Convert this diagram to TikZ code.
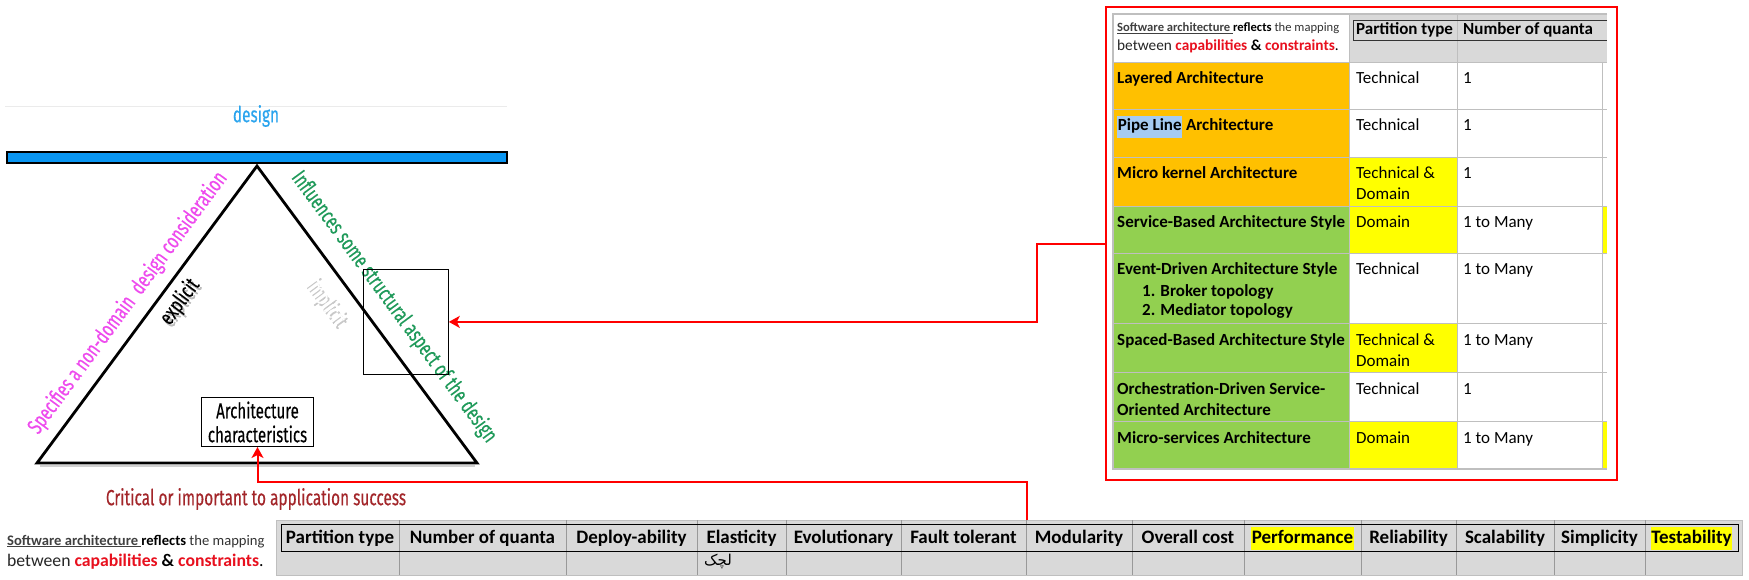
\documentclass[tikz,border=0pt]{standalone}
\usepackage{fontspec}
\setmainfont{Carlito}
\newfontfamily\condf[FakeStretch=0.7,FakeBold=0.3]{Fira Sans}
\newfontfamily\arabicfont[Script=Arabic]{DejaVu Sans}
\TeXXeTstate=1
\usetikzlibrary{arrows.meta}
\definecolor{orng}{HTML}{FFC000}
\definecolor{grn}{HTML}{92D050}
\definecolor{yel}{HTML}{FFFF00}
\definecolor{lgray}{HTML}{D9D9D9}
\definecolor{gline}{HTML}{BFBFBF}
\definecolor{dblue}{HTML}{2AA4EE}
\definecolor{barblue}{HTML}{0A96F2}
\definecolor{magt}{HTML}{EE4AEE}
\definecolor{dgreen}{HTML}{1F9A5A}
\definecolor{dred}{HTML}{A3262A}
\definecolor{hlblue}{HTML}{A5CBF2}
\definecolor{capred}{HTML}{E8101E}
\newcommand\fsz[2]{\fontsize{#1pt}{#2pt}\selectfont}
\newcommand\hl[2]{{\setlength{\fboxsep}{0.6pt}\colorbox{#1}{\strut #2}}}
\newcommand\swA{{\color{black!75}\bfseries\underline{Software architecture\ }}{\bfseries reflects} {\color{black!80}the mapping}}
\newcommand\swB{{\color{black!85}between} {\color{capred}\bfseries capabilities} {\bfseries\&} {\color{capred}\bfseries constraints}.}
\tikzset{
  tlab/.style={inner sep=0pt, font=\condf\fsz{22}{26}},
  shd/.style={tlab, text=black!50, opacity=0.5},
  ttxt/.style={anchor=base west, inner sep=0pt, font=\fsz{17}{20}},
  ttxtb/.style={anchor=base west, inner sep=0pt, font=\fsz{17}{20}\bfseries},
  htxt/.style={anchor=base, inner sep=0pt, font=\fsz{19}{22}\bfseries},
  conn/.style={draw=red, line width=2pt, -{Stealth[length=11pt,width=12pt,inset=3pt]}},
}
\begin{document}
\begin{tikzpicture}[x=1pt,y=-1pt]
\useasboundingbox[fill=white] (0,0) rectangle (1749,580);
% ---------- left: design triangle ----------
\draw[black!8, line width=0.8pt] (5,106) -- (507,106);
\node[tlab, text=dblue] (design) at (256,116) {design};
\draw[fill=barblue, line width=1.5pt] (7,152) rectangle (507,163);
\draw[black!18, line width=2pt] (40,466) -- (475,466);
\draw[line width=2.8pt, line join=miter] (257,166) -- (477,463) -- (37,463) -- cycle;
\node[tlab, text=magt, rotate=53.6] (spec) at (128,303) {Specifies a non-domain\ \ design consideration};
\node[tlab, text=dgreen, rotate=-53.6] (infl) at (394,307) {Influences some structural aspect of the design};
\node[shd, rotate=53.6] (explsh) at (182,304.5) {explicit};
\node[tlab, rotate=53.6] (expl) at (180,302) {explicit};
\node[shd, rotate=-53.6, text=black!40] (implsh) at (327,304.5) {implicit};
\node[tlab, rotate=-53.6, text=white] (impl) at (325,302) {implicit};
\node[draw, line width=0.8pt, minimum width=85pt, minimum height=105pt, inner sep=0pt, anchor=north west] (sq) at (363,269) {};
\node[draw, line width=1pt, minimum width=112pt, minimum height=49pt, inner sep=0pt, anchor=north west, align=center, font=\condf\fsz{21.5}{24}] (arch) at (201,397) {Architecture\\characteristics};
\node[tlab, text=dred] (crit) at (256,499) {Critical or important to application success};
% ---------- top right table ----------
\fill[white] (1113,14) rectangle (1607,469);
\fill[lgray] (1349,14) rectangle (1607,62);
\foreach \t/\b/\c in {62/109/orng,109/157/orng,157/206/orng,206/253/grn,253/323/grn,323/372/grn,372/421/grn,421/469/grn}
  \fill[\c] (1113,\t) rectangle (1349,\b);
\foreach \t/\b in {157/206,206/253,323/372,421/469}
  \fill[yel] (1349,\t) rectangle (1457,\b);
\foreach \t/\b in {206/253,421/469}
  \fill[yel] (1602,\t) rectangle (1607,\b);
\foreach \y in {62,109,157,206,253,323,372,421}
  \draw[gline, line width=0.9pt] (1113,\y) -- (1607,\y);
\draw[gline, line width=0.9pt] (1349,14) -- (1349,469) (1457,14) -- (1457,469) (1602,62) -- (1602,469);
\draw[gline, line width=1.6pt] (1607,14) -- (1113,14) -- (1113,469) -- (1607,469);
\draw[black!80, line width=0.9pt] (1607,20) -- (1353,20) -- (1353,40) -- (1607,40);
\node[anchor=base west, inner sep=0pt, font=\fsz{12.6}{15}] (h1) at (1117,32) {\swA};
\node[anchor=base west, inner sep=0pt, font=\fsz{15.3}{18}] (h2) at (1117,51) {\swB};
\node[ttxtb] (hp) at (1356,35) {Partition type};
\node[ttxtb] (hn) at (1463,35) {Number of quanta};
% column 1
\node[ttxtb] (r1a) at (1117,84) {Layered Architecture};
\node[ttxtb] (r2a) at (1117,131) {\hl{hlblue}{Pipe Line} Architecture};
\node[ttxtb] (r3a) at (1117,179) {Micro kernel Architecture};
\node[ttxtb] (r4a) at (1117,228) {Service-Based Architecture Style};
\node[ttxtb] (r5a) at (1117,275) {Event-Driven Architecture Style};
\node[ttxtb] (r5b) at (1142,296) {1. Broker topology};
\node[ttxtb] (r5c) at (1142,316) {2. Mediator topology};
\node[ttxtb] (r6a) at (1117,345) {Spaced-Based Architecture Style};
\node[ttxtb] (r7a) at (1117,394) {Orchestration-Driven Service-};
\node[ttxtb] (r7b) at (1117,415) {Oriented Architecture};
\node[ttxtb] (r8a) at (1117,443) {Micro-services Architecture};
% column 2
\node[ttxt] (p1) at (1356,84) {Technical};
\node[ttxt] (p2) at (1356,131) {Technical};
\node[ttxt] (p3) at (1356,179) {Technical \&};
\node[ttxt] (p3b) at (1356,200) {Domain};
\node[ttxt] (p4) at (1356,228) {Domain};
\node[ttxt] (p5) at (1356,275) {Technical};
\node[ttxt] (p6) at (1356,345) {Technical \&};
\node[ttxt] (p6b) at (1356,366) {Domain};
\node[ttxt] (p7) at (1356,394) {Technical};
\node[ttxt] (p8) at (1356,443) {Domain};
% column 3
\node[ttxt] (q1) at (1463,84) {1};
\node[ttxt] (q2) at (1463,131) {1};
\node[ttxt] (q3) at (1463,179) {1};
\node[ttxt] (q4) at (1463,228) {1 to Many};
\node[ttxt] (q5) at (1463,275) {1 to Many};
\node[ttxt] (q6) at (1463,345) {1 to Many};
\node[ttxt] (q7) at (1463,394) {1};
\node[ttxt] (q8) at (1463,443) {1 to Many};
\node[draw=red, line width=2.2pt, minimum width=511pt, minimum height=473pt, inner sep=0pt, anchor=north west] (frame) at (1105,6) {};
% ---------- bottom table ----------
\node[anchor=base west, inner sep=0pt, font=\fsz{14.6}{17}] (bl1) at (7,545) {\swA};
\node[anchor=base west, inner sep=0pt, font=\fsz{17.7}{21}] (bl2) at (7,566) {\swB};
\node[fill=lgray, draw=black!25, minimum width=1466pt, minimum height=55pt, anchor=north west, inner sep=0pt] (btab) at (276,520) {};
\foreach \x in {399,566,697,786,901,1026,1132,1244,1361,1456,1554,1645}
  \draw[black!40, line width=0.9pt] (\x,520) -- (\x,575);
\draw[black, line width=0.9pt] (281,524) rectangle (1738,551);
\foreach \l/\r/\t [count=\i] in {281/399/Partition type,399/566/Number of quanta,566/697/Deploy-ability,697/786/Elasticity,786/901/Evolutionary,901/1026/Fault tolerant,1026/1132/Modularity,1132/1244/Overall cost,1361/1456/Reliability,1456/1554/Scalability,1554/1645/Simplicity}
  \node[htxt] (bh\i) at ({(\l+\r)/2},543) {\t};
\node[htxt] (bhperf) at (1302.5,543) {\hl{yel}{Performance}};
\node[htxt] (bhtest) at (1691.5,543) {\hl{yel}{Testability}};
\node[anchor=base, inner sep=0pt, font=\arabicfont\fsz{15}{18}] (ar) at (718,565) {\beginR لچک\endR};
% ---------- connectors ----------
\draw[conn] (frame.west) -- ++(-68,0) |- (sq.east);
\coordinate (bend) at (1027,482);
\draw[conn] (btab.north -| bend) -- (bend) -| (arch.south);
\end{tikzpicture}
\end{document}
